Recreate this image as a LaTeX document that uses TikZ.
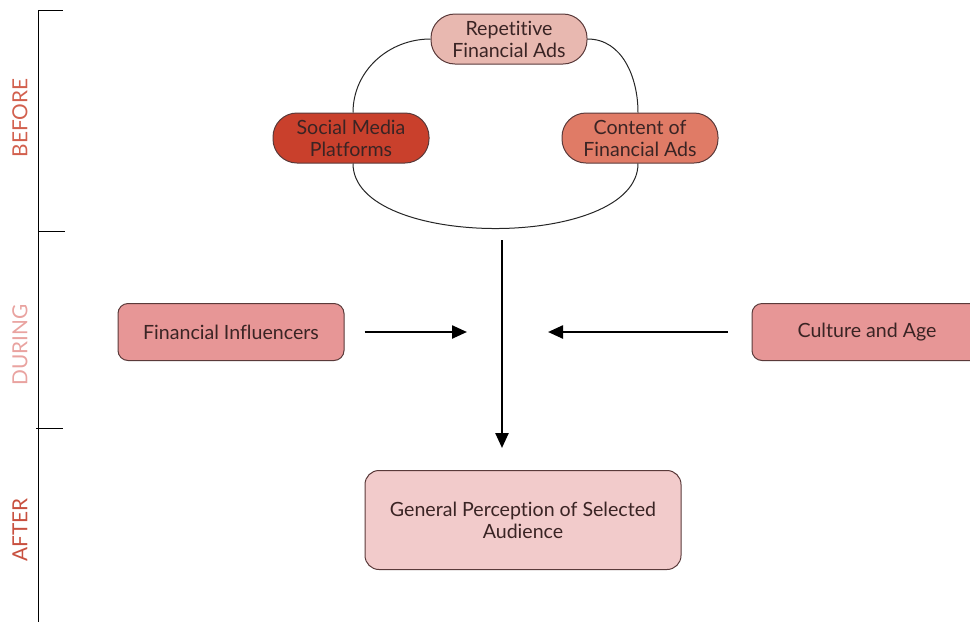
\documentclass[tikz,border=0pt]{standalone}
\usepackage{fontspec}
\setmainfont{Lato}[Ligatures={NoCommon}]
\usetikzlibrary{arrows.meta}

\definecolor{repfill}{HTML}{E8B8B0}
\definecolor{socfill}{HTML}{C9402C}
\definecolor{confill}{HTML}{E07B66}
\definecolor{inffill}{HTML}{E79696}
\definecolor{genfill}{HTML}{F2CBCB}
\definecolor{edgebrown}{HTML}{5A3A3A}
\definecolor{txtdark}{HTML}{3A2424}
\definecolor{lblbefore}{HTML}{D2604E}
\definecolor{lblduring}{HTML}{E9A3A0}
\definecolor{lblafter}{HTML}{C8503F}

\begin{document}
\begin{tikzpicture}[x=0.5pt,y=-0.5pt,
  pill/.style={draw=edgebrown,line width=0.5pt,rounded corners=12pt,
    minimum width=78pt,minimum height=25pt,inner sep=1pt,align=center,
    text=txtdark,font=\fontsize{9.8}{11}\selectfont},
  factor/.style={draw=edgebrown,line width=0.5pt,rounded corners=5pt,
    fill=inffill,minimum width=113pt,minimum height=28.5pt,
    text=txtdark,font=\fontsize{9.8}{11}\selectfont},
  phase/.style={rotate=90,font=\fontsize{10.4}{12}\selectfont},
  loopline/.style={draw=black!85,line width=0.5pt},
  flow/.style={line width=1.2pt,-{Triangle[length=7.5pt,width=6.5pt]}}
]
\useasboundingbox (0,0) rectangle (970,622);

% time axis
\draw[line width=0.5pt] (38,10) -- (38,622);
\draw[line width=0.5pt] (38,10) -- (63,10);
\draw[line width=0.5pt] (38,231) -- (65,231);
\draw[line width=0.5pt] (36,428) -- (63,428);
\node[phase,text=lblbefore] (before) at (20,118) {BEFORE};
\node[phase,text=lblduring] (during) at (20,345) {DURING};
\node[phase,text=lblafter]  (after)  at (20,530) {AFTER};

% before: the ad loop
\node[pill,fill=repfill] (rep) at (509,39)  {Repetitive\\Financial Ads};
\node[pill,fill=socfill] (soc) at (351,138) {Social Media\\Platforms};
\node[pill,fill=confill] (con) at (640,138) {Content of\\Financial Ads};
\draw[loopline] (rep.west) to[out=180,in=90] ([xshift=1pt]soc.north);
\draw[loopline] (rep.east) to[out=0,in=90] ([xshift=-1pt]con.north);
\draw[loopline] ([xshift=1pt]soc.south) to[out=-90,in=-90,looseness=0.78] ([xshift=-1pt]con.south);

% during
\node[factor] (fin) at (231,332) {Financial Influencers};
\node[factor,minimum width=115pt] (cult) at (867,332) {Culture and Age};
\coordinate (hubtop) at (502,240);
\coordinate (hubbot) at (502,448);
\coordinate (hubleft) at (467,332);
\coordinate (hubright) at (548,332);
\draw[flow] (hubtop) -- (hubbot);
\draw[flow,shorten <=10pt] (fin.east) -- (hubleft);
\draw[flow,shorten <=12pt] (cult.west) -- (hubright);

% after
\node[factor,fill=genfill,minimum width=158pt,minimum height=49.5pt,
  align=center,rounded corners=7pt] (gen) at (523,520)
  {General Perception of Selected\\Audience};
\end{tikzpicture}
\end{document}
